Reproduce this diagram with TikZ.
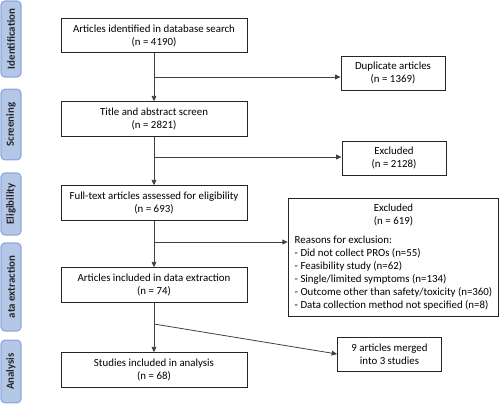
\documentclass[tikz,border=0pt]{standalone}
\usepackage{fontspec}
\setmainfont{Carlito}
\usetikzlibrary{arrows.meta}
\definecolor{sidefill}{HTML}{B4C7E7}
\definecolor{sidedraw}{HTML}{8FAADC}
\definecolor{linegray}{HTML}{404040}
\newcommand{\fs}{\fontsize{8.15}{9.75}\selectfont}
\begin{document}
\begin{tikzpicture}[x=0.75pt,y=-0.75pt,
  box/.style={draw=black!85, line width=0.7pt, fill=white, align=center, inner sep=0pt, font=\fs},
  mainbox/.style={box, minimum width=139.5pt, minimum height=26pt},
  sidebox/.style={box, minimum width=78pt, minimum height=25.5pt},
  phase/.style={draw=sidedraw, fill=sidefill, line width=0.9pt, rounded corners=3pt, rotate=90,
    minimum height=15pt, inner sep=0pt, font=\fs\bfseries, text=black!85},
  conn/.style={draw=linegray, line width=0.6pt},
  arr/.style={conn, -{Triangle[length=4pt,width=3.6pt]}}
]
\useasboundingbox (0,0) rectangle (500,404);

% phase labels
\node[phase, minimum width=57pt] (p1) at (11,39) {Identification};
\node[phase, minimum width=53pt] (p2) at (11,124.5) {Screening};
\node[phase, minimum width=46.5pt] (p3) at (11,204) {Eligibility};
\node[phase, minimum width=66pt] (p4) at (11,287) {ata extraction};
\node[phase, minimum width=47pt] (p5) at (11,371.5) {Analysis};

% main boxes
\node[mainbox] (a1) at (154,35.5) {Articles identified in database search\\(n = 4190)};
\node[mainbox] (a2) at (154,119) {Title and abstract screen\\(n = 2821)};
\node[mainbox] (a3) at (154,203) {Full-text articles assessed for eligibility\\(n = 693)};
\node[mainbox] (a4) at (154,285) {Articles included in data extraction\\(n = 74)};
\node[mainbox] (a5) at (154,370) {Studies included in analysis\\(n = 68)};

% side boxes
\node[sidebox] (s1) at (393,73) {Duplicate articles\\(n = 1369)};
\node[sidebox] (s2) at (394,158) {Excluded\\(n = 2128)};
\node[box, minimum width=158pt, minimum height=89pt] (s3) at (393.5,257.5) {%
  \begin{tabular}{@{}l@{}}
  \multicolumn{1}{c}{Excluded}\\
  \multicolumn{1}{c}{(n = 619)}\\[4.5pt]
  Reasons for exclusion:\\
  - Did not collect PROs (n=55)\\
  - Feasibility study (n=62)\\
  - Single/limited symptoms (n=134)\\
  - Outcome other than safety/toxicity (n=360)\\
  - Data collection method not specified (n=8)
  \end{tabular}};
\node[sidebox] (s4) at (389.5,354) {9 articles merged\\into 3 studies};

% branch points
\coordinate (b1) at (a1.south |- 0,77);
\coordinate (b2) at (a2.south |- 0,157);
\coordinate (b3) at (a3.south |- 0,242);
\coordinate (b4) at (a4.south |- 0,324);

% vertical connectors
\draw[arr] (a1.south) -- (a2.north);
\draw[arr] (a2.south) -- (a3.north);
\draw[arr] (a3.south) -- (a4.north);
\draw[arr] (a4.south) -- (a5.north);

% side connectors
\draw[arr] (b1) -- (b1 -| s1.west);
\draw[arr] (b2) -- (b2 -| s2.west);
\draw[arr] (b3) -- (b3 -| s3.west);
\draw[arr] (b4) -- (s4.west);
\end{tikzpicture}
\end{document}
